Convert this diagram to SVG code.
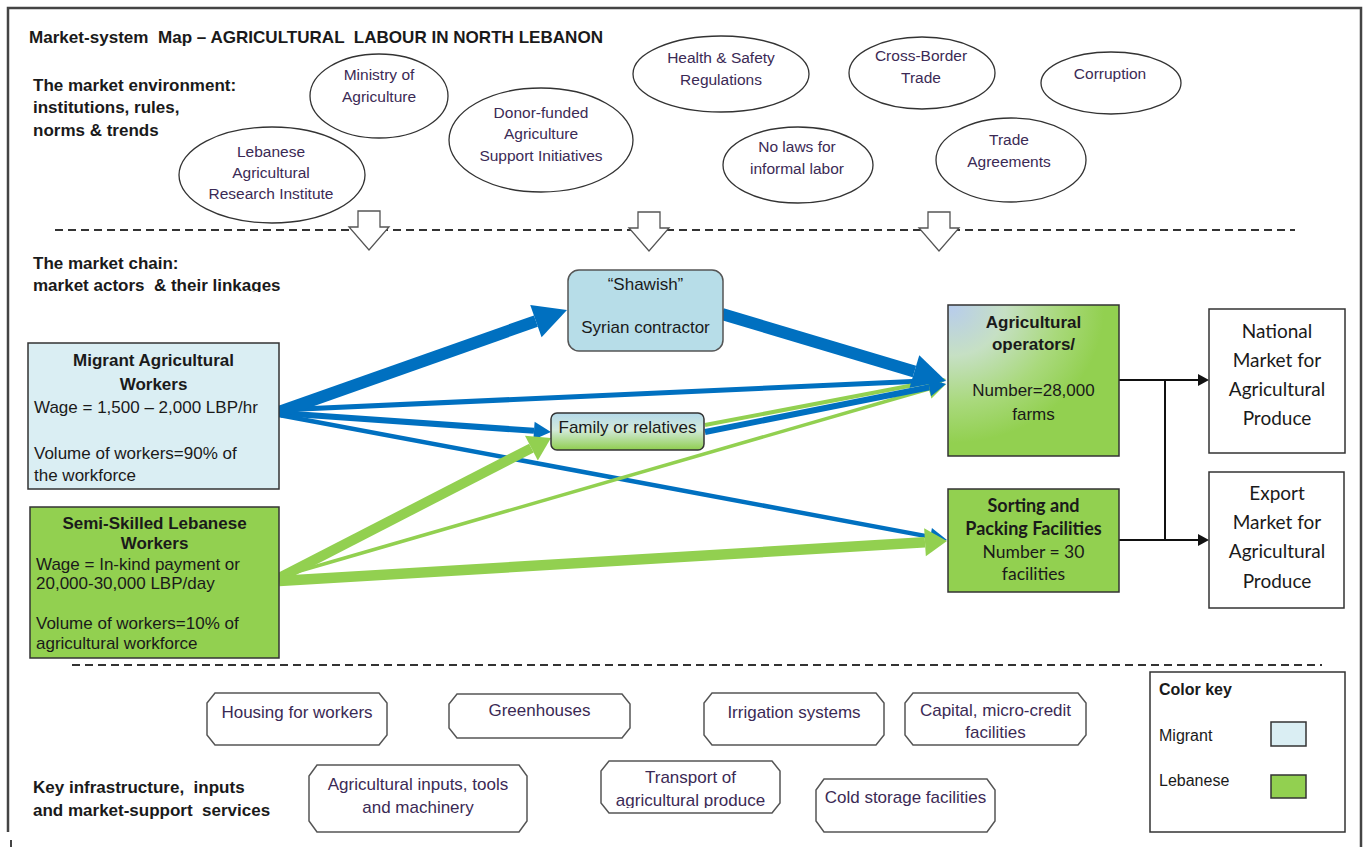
<svg xmlns="http://www.w3.org/2000/svg" width="1366" height="847" viewBox="0 0 1366 847">
<defs>
<style>
text { font-family: "Liberation Sans", Arial, sans-serif; }
.h { font-weight: bold; font-size: 17px; fill: #1a1a1a; white-space: pre; }
.env ellipse { fill: #fff; stroke: #333; stroke-width: 1.3; }
.et { font-size: 15.5px; fill: #3b2a55; text-anchor: middle; }
.box { stroke: #333; stroke-width: 1.5; }
.bt { font-size: 17px; fill: #1a1a1a; }
.btb { font-size: 17px; font-weight: bold; fill: #1a1a1a; text-anchor: middle; }
.mid { text-anchor: middle; }
.cal { font-family: Lato, "Liberation Sans", sans-serif; fill: #1a1a1a; text-anchor: middle; }
.infra path { fill: #fff; stroke: #555; stroke-width: 1.5; }
.it { font-size: 17px; fill: #3b2a55; text-anchor: middle; }
.dash { stroke: #333; stroke-width: 2; stroke-dasharray: 8 5; fill: none; }
.blk { fill: #fff; stroke: #555; stroke-width: 1.3; }
.blue { stroke: #0070c0; fill: none; }
.green { stroke: #92d050; fill: none; }
.kline { stroke: #111; stroke-width: 2; fill: none; }
</style>
<marker id="mBL" markerUnits="userSpaceOnUse" markerWidth="40" markerHeight="40" viewBox="0 -20 40 40" refX="0" refY="0" orient="auto" overflow="visible"><path d="M0,-17 L33,0 L0,17 Z" fill="#0070c0"/></marker>
<marker id="mBS" markerUnits="userSpaceOnUse" markerWidth="20" markerHeight="20" viewBox="0 -10 20 20" refX="0" refY="0" orient="auto" overflow="visible"><path d="M0,-9 L17,0 L0,9 Z" fill="#0070c0"/></marker>
<marker id="mGL" markerUnits="userSpaceOnUse" markerWidth="30" markerHeight="30" viewBox="0 -15 30 30" refX="0" refY="0" orient="auto" overflow="visible"><path d="M0,-14 L22,0 L0,14 Z" fill="#92d050"/></marker>
<marker id="mGS" markerUnits="userSpaceOnUse" markerWidth="20" markerHeight="24" viewBox="0 -12 20 24" refX="0" refY="0" orient="auto" overflow="visible"><path d="M0,-10 L18,0 L0,10 Z" fill="#92d050"/></marker>
<marker id="mK" markerUnits="userSpaceOnUse" markerWidth="12" markerHeight="14" viewBox="0 -7 12 14" refX="0" refY="0" orient="auto" overflow="visible"><path d="M0,-6 L11,0 L0,6 Z" fill="#111"/></marker>
<linearGradient id="gFam" x1="0" y1="0" x2="0" y2="1">
<stop offset="0" stop-color="#b4d9e9"/>
<stop offset="0.45" stop-color="#d3eadc"/>
<stop offset="1" stop-color="#8fce4e"/>
</linearGradient>
<radialGradient id="gAg" cx="0.02" cy="0.02" r="1.05" fx="0.02" fy="0.02">
<stop offset="0" stop-color="#b8cdeb"/>
<stop offset="0.3" stop-color="#c6e0c4"/>
<stop offset="0.6" stop-color="#a9d97c"/>
<stop offset="0.85" stop-color="#92d050"/>
<stop offset="1" stop-color="#92d050"/>
</radialGradient>
<path id="downArrow" d="M-11,0 H11 V16 H20 L0,39 L-20,16 H-11 Z"/>
<clipPath id="clipChain"><rect x="0" y="240" width="400" height="52"/></clipPath>
<clipPath id="clipLeb"><rect x="30" y="507" width="249" height="145"/></clipPath>
<clipPath id="clipTrans"><rect x="601" y="761" width="179" height="47"/></clipPath>
</defs>

<rect x="0" y="0" width="1366" height="847" fill="#fff"/>

<g id="frame">
<path d="M8,832 V8 H1361 V847" fill="none" stroke="#444" stroke-width="2.5"/>
<path d="M11,840 V847" fill="none" stroke="#444" stroke-width="2"/>
</g>

<g id="headings">
<text class="h" x="29" y="43" textLength="574" lengthAdjust="spacingAndGlyphs">Market-system  Map – AGRICULTURAL  LABOUR IN NORTH LEBANON</text>
<text class="h" x="33" y="91">The market environment:</text>
<text class="h" x="33" y="113">institutions, rules,</text>
<text class="h" x="33" y="136">norms &amp; trends</text>
<g clip-path="url(#clipChain)">
<text class="h" x="33" y="269">The market chain:</text>
<text class="h" x="33" y="291">market actors  &amp; their linkages</text>
</g>
<text class="h" x="33" y="793">Key infrastructure,  inputs</text>
<text class="h" x="33" y="816">and market-support  services</text>
</g>

<g id="dividers">
<line class="dash" x1="55" y1="230" x2="1295" y2="230"/>
<line class="dash" x1="72" y1="665" x2="1322" y2="665"/>
<use href="#downArrow" class="blk" x="369" y="211"/>
<use href="#downArrow" class="blk" x="649" y="212"/>
<use href="#downArrow" class="blk" x="939" y="212"/>
</g>

<g class="env">
<g id="env-ministry"><ellipse cx="379" cy="96" rx="69" ry="42"/><text class="et" x="379" y="80">Ministry of</text><text class="et" x="379" y="102">Agriculture</text></g>
<g id="env-lari"><ellipse cx="272" cy="175" rx="93" ry="48"/><text class="et" x="271" y="157">Lebanese</text><text class="et" x="271" y="178">Agricultural</text><text class="et" x="271" y="199">Research Institute</text></g>
<g id="env-donor"><ellipse cx="541" cy="140" rx="92" ry="52"/><text class="et" x="541" y="118">Donor-funded</text><text class="et" x="541" y="139">Agriculture</text><text class="et" x="541" y="161">Support Initiatives</text></g>
<g id="env-health"><ellipse cx="721" cy="74" rx="88" ry="38"/><text class="et" x="721" y="63">Health &amp; Safety</text><text class="et" x="721" y="85">Regulations</text></g>
<g id="env-nolaws"><ellipse cx="798" cy="165" rx="75" ry="38"/><text class="et" x="797" y="152">No laws for</text><text class="et" x="797" y="174">informal labor</text></g>
<g id="env-crossborder"><ellipse cx="922" cy="73" rx="73" ry="36"/><text class="et" x="921" y="61">Cross-Border</text><text class="et" x="921" y="83">Trade</text></g>
<g id="env-corruption"><ellipse cx="1111" cy="83" rx="70" ry="31"/><text class="et" x="1110" y="79">Corruption</text></g>
<g id="env-trade"><ellipse cx="1011" cy="160" rx="75" ry="42"/><text class="et" x="1009" y="145">Trade</text><text class="et" x="1009" y="167">Agreements</text></g>
</g>

<g id="connectors">
<line class="blue" x1="279" y1="410" x2="929" y2="380.8" stroke-width="5" marker-end="url(#mBS)"/>
<line class="blue" x1="279" y1="413" x2="534" y2="430.8" stroke-width="6" marker-end="url(#mBS)"/>
<line class="blue" x1="279" y1="415" x2="930.3" y2="536.9" stroke-width="4.5" marker-end="url(#mBS)"/>
<line class="green" x1="279" y1="577" x2="928.7" y2="389" stroke-width="3.5" marker-end="url(#mGS)"/>
<line class="green" x1="279" y1="578" x2="531.4" y2="448.1" stroke-width="10" marker-end="url(#mGL)"/>
<line class="green" x1="279" y1="581" x2="925" y2="542.3" stroke-width="10.5" marker-end="url(#mGL)"/>
<line class="green" x1="705" y1="425" x2="928.3" y2="382.3" stroke-width="4" marker-end="url(#mGS)"/>
<line class="blue" x1="705" y1="432" x2="929.3" y2="387.3" stroke-width="6" marker-end="url(#mBS)"/>
<line class="blue" x1="279" y1="412" x2="535.9" y2="321.1" stroke-width="12" marker-end="url(#mBL)"/>
<line class="blue" x1="722" y1="314" x2="914.4" y2="371.5" stroke-width="12" marker-end="url(#mBL)"/>
<line class="kline" x1="1119" y1="380" x2="1198" y2="380" marker-end="url(#mK)"/>
<line class="kline" x1="1119" y1="540" x2="1198" y2="540" marker-end="url(#mK)"/>
<line class="kline" x1="1165" y1="380" x2="1165" y2="540"/>
</g>

<g id="migrant">
<rect class="box" x="28" y="343" width="251" height="146" fill="#daeef3"/>
<text class="btb" x="153.5" y="366">Migrant Agricultural</text>
<text class="btb" x="153.5" y="390">Workers</text>
<text class="bt" x="34" y="413">Wage = 1,500 – 2,000 LBP/hr</text>
<text class="bt" x="34" y="459">Volume of workers=90% of</text>
<text class="bt" x="34" y="481">the workforce</text>
</g>

<g id="lebanese">
<rect class="box" x="30" y="507" width="249" height="151" fill="#92d050"/>
<text class="btb" x="154.5" y="529">Semi-Skilled Lebanese</text>
<text class="btb" x="154.5" y="549">Workers</text>
<text class="bt" x="36" y="570">Wage = In-kind payment or</text>
<text class="bt" x="36" y="589">20,000-30,000 LBP/day</text>
<g clip-path="url(#clipLeb)">
<text class="bt" x="36" y="629">Volume of workers=10% of</text>
<text class="bt" x="36" y="649">agricultural workforce</text>
</g>
</g>

<g id="shawish">
<rect x="568" y="270" width="155" height="81" rx="11" fill="#b7dde8" stroke="#555" stroke-width="1.5"/>
<text class="bt mid" x="645.5" y="290">“Shawish”</text>
<text class="bt mid" x="645.5" y="333">Syrian contractor</text>
</g>

<g id="family">
<rect x="551" y="413" width="153" height="37" rx="6" fill="url(#gFam)" stroke="#333" stroke-width="1.5"/>
<text class="bt mid" x="627.5" y="433">Family or relatives</text>
</g>

<g id="agoperators">
<rect class="box" x="948" y="305" width="171" height="151" fill="url(#gAg)"/>
<text class="btb" x="1033.5" y="328">Agricultural</text>
<text class="btb" x="1033.5" y="350">operators/</text>
<text class="bt mid" x="1033.5" y="396">Number=28,000</text>
<text class="bt mid" x="1033.5" y="420">farms</text>
</g>

<g id="sorting">
<rect class="box" x="948" y="489" width="171" height="103" fill="#92d050"/>
<text class="cal" x="1033.5" y="512" font-size="18" font-weight="bold">Sorting and</text>
<text class="cal" x="1033.5" y="535" font-size="18" font-weight="bold">Packing Facilities</text>
<text class="cal" x="1033.5" y="558" font-size="17.5">Number = 30</text>
<text class="cal" x="1033.5" y="580" font-size="17.5">facilities</text>
</g>

<g id="national">
<rect class="box" x="1209" y="309" width="136" height="144" fill="#fff"/>
<text class="cal" x="1277" y="338" font-size="19">National</text>
<text class="cal" x="1277" y="367" font-size="19">Market for</text>
<text class="cal" x="1277" y="396" font-size="19">Agricultural</text>
<text class="cal" x="1277" y="425" font-size="19">Produce</text>
</g>

<g id="export">
<rect class="box" x="1209" y="472" width="135" height="136" fill="#fff"/>
<text class="cal" x="1277" y="500" font-size="19">Export</text>
<text class="cal" x="1277" y="529" font-size="19">Market for</text>
<text class="cal" x="1277" y="558" font-size="19">Agricultural</text>
<text class="cal" x="1277" y="588" font-size="19">Produce</text>
</g>

<g class="infra">
<g id="inf-housing"><path d="M215,693 H379 L387,703 V735 L379,745 H215 L207,735 V703 Z"/><text class="it" x="297" y="718">Housing for workers</text></g>
<g id="inf-greenhouses"><path d="M457,694 H622 L630,704 V728 L622,738 H457 L449,728 V704 Z"/><text class="it" x="539.5" y="716">Greenhouses</text></g>
<g id="inf-irrigation"><path d="M712,693 H876 L884,703 V735 L876,745 H712 L704,735 V703 Z"/><text class="it" x="794" y="718">Irrigation systems</text></g>
<g id="inf-capital"><path d="M913,693 H1078 L1086,703 V735 L1078,745 H913 L905,735 V703 Z"/><text class="it" x="995.5" y="716">Capital, micro-credit</text><text class="it" x="995.5" y="738">facilities</text></g>
<g id="inf-inputs"><path d="M317,765 H519 L527,776 V821 L519,832 H317 L309,821 V776 Z"/><text class="it" x="418" y="790">Agricultural inputs, tools</text><text class="it" x="418" y="813">and machinery</text></g>
<g id="inf-transport"><path d="M609,761 H772 L780,771 V803 L772,813 H609 L601,803 V771 Z"/><g clip-path="url(#clipTrans)"><text class="it" x="690.5" y="783">Transport of</text><text class="it" x="690.5" y="806">agricultural produce</text></g></g>
<g id="inf-cold"><path d="M824,779 H987 L995,790 V821 L987,832 H824 L816,821 V790 Z"/><text class="it" x="905.5" y="803">Cold storage facilities</text></g>
</g>

<g id="colorkey">
<rect x="1150" y="672" width="195" height="160" fill="#fff" stroke="#333" stroke-width="1.5"/>
<text x="1159" y="695" font-size="16" font-weight="bold" fill="#1a1a1a">Color key</text>
<text x="1159" y="741" font-size="16" fill="#1a1a1a">Migrant</text>
<rect x="1271" y="722" width="35" height="24" fill="#daeef3" stroke="#333" stroke-width="1.5"/>
<text x="1159" y="786" font-size="16" fill="#1a1a1a">Lebanese</text>
<rect x="1271" y="775" width="35" height="23" fill="#92d050" stroke="#333" stroke-width="1.5"/>
</g>
</svg>
